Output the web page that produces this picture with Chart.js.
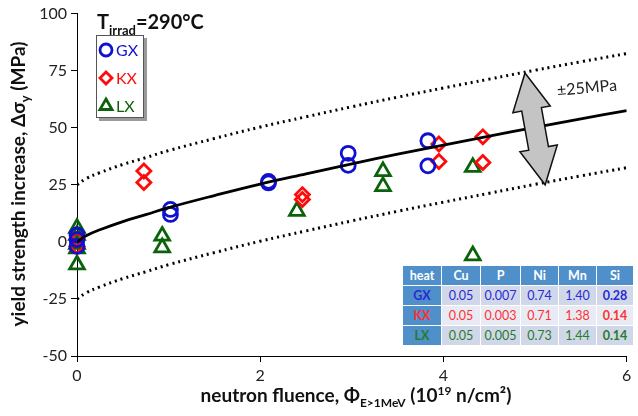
<!DOCTYPE html>
<html lang="en">
  <head>
    <meta charset="UTF-8" />
    <script src="https://cdn.jsdelivr.net/npm/chart.js"></script>
    <style>
      body { margin: 0; background: #fff; }
      #wrap { position: relative; width: 638px; height: 416px; }
      #heatTable {
        position: absolute; left: 402px; top: 265px;
        border-collapse: separate; border-spacing: 1.5px;
        font-family: Lato, "Liberation Sans", sans-serif; font-size: 12.5px;
        text-align: center; background: #fff;
      }
      #heatTable td, #heatTable th { height: 19px; padding: 0; }
      #heatTable th { background: #4f8fca; color: #fff; font-weight: bold; }
      #heatTable tr.r1 td { background: #cfd7e8; }
      #heatTable tr.r2 td { background: #e8ebf4; }
      #heatTable tr.r3 td { background: #cfd7e8; }
      #heatTable tr td.h { background: #4f8fca; font-weight: bold; }
    </style>
  </head>
  <body>
    <div id="wrap">
      <canvas id="fluenceChart" width="638" height="416"></canvas>
      <table id="heatTable"></table>
    </div>

    <script>
      // GX / KX / LX measured points (fluence, yield strength increase)
      const gxX = [0, 0, 0, 1.02, 1.02, 2.09, 2.09, 2.96, 2.96, 3.83, 3.83];
      const gxY = [3, 1, -2, 14.2, 12, 26.5, 25.8, 38.8, 33.5, 44.3, 33.3];
      const kxX = [0, 0, 0.73, 0.73, 2.46, 2.46, 3.95, 3.95, 4.43, 4.43];
      const kxY = [1, -2, 31, 26, 20.7, 18.6, 42.9, 35.2, 46, 34.8];
      const lxX = [0, 0, 0, 0, 0, 0.93, 0.93, 2.4, 3.34, 3.34, 4.32, 4.32];
      const lxY = [6, 3, -1, -3, -10, 2.6, -2.5, 13.5, 30.9, 24.3, 32.7, -6];

      // trend curve and +/-25 MPa band
      const fitX = [0, 0.1, 0.25, 0.5, 0.75, 1, 1.5, 2, 2.5, 3, 3.5, 4, 4.5, 5, 5.5, 6];
      const fitY = [0, 2.7, 5.3, 8.9, 11.9, 15, 20.3, 25.3, 29.8, 34.2, 38.4, 42.4, 46.3, 50.2, 53.9, 57.5];
      const upperY = [25, 27.7, 30.3, 33.9, 36.9, 40, 45.3, 50.3, 54.8, 59.2, 63.4, 67.4, 71.3, 75.2, 78.9, 82.5];
      const lowerY = [-25, -22.3, -19.7, -16.1, -13.1, -10, -4.7, 0.3, 4.8, 9.2, 13.4, 17.4, 21.3, 25.2, 28.9, 32.5];

      const xTicks = [0, 2, 4, 6];
      const yTicks = [-50, -25, 0, 25, 50, 75, 100];

      // composition table
      const heats = ["GX", "KX", "LX"];
      const elements = ["Cu", "P", "Ni", "Mn", "Si"];
      const composition = [
        ["0.05", "0.007", "0.74", "1.40", "0.28"],
        ["0.05", "0.003", "0.71", "1.38", "0.14"],
        ["0.05", "0.005", "0.73", "1.44", "0.14"],
      ];

      const BLUE = "#1010d0";
      const RED = "#ff0a0a";
      const GREEN = "#0a620a";
      const tableColors = ["#2a2ad6", "#ff3030", "#2a7a2a"];
      const FONT = "Lato, 'Liberation Sans', sans-serif";

      const pts = (xs, ys) => xs.map((x, i) => ({ x: x, y: ys[i] }));

      // table
      const colW = [38, 38, 39, 37, 37, 36];
      let html = "<tr><th style='width:" + colW[0] + "px'>heat</th>";
      elements.forEach((e, i) => (html += "<th style='width:" + colW[i + 1] + "px'>" + e + "</th>"));
      html += "</tr>";
      heats.forEach((h, r) => {
        html += "<tr class='r" + (r + 1) + "'><td class='h' style='color:" + tableColors[r] + "'>" + h + "</td>";
        composition[r].forEach((v, c) => {
          const b = c === 4 ? "font-weight:bold;" : "";
          html += "<td style='" + b + "color:" + tableColors[r] + "'>" + v + "</td>";
        });
        html += "</tr>";
      });
      document.getElementById("heatTable").innerHTML = html;

      // text with sub/superscripts
      function drawParts(ctx, parts, x, y, align) {
        let w = 0;
        parts.forEach((p) => {
          ctx.font = "bold " + p.s + "px " + FONT;
          w += ctx.measureText(p.t).width;
        });
        let cx = align === "center" ? x - w / 2 : x;
        parts.forEach((p) => {
          ctx.font = "bold " + p.s + "px " + FONT;
          ctx.fillText(p.t, cx, y + (p.dy || 0));
          cx += ctx.measureText(p.t).width;
        });
      }

      const extras = {
        id: "extras",
        afterDraw(chart) {
          const ctx = chart.ctx;
          const xs = chart.scales.x;
          const ys = chart.scales.y;
          ctx.save();
          ctx.fillStyle = "#111";
          ctx.textBaseline = "alphabetic";
          ctx.textAlign = "left";

          // axis titles
          drawParts(ctx, [
            { t: "neutron fluence, Φ", s: 19 },
            { t: "E>1MeV", s: 12, dy: 5 },
            { t: " (10", s: 19 },
            { t: "19", s: 12, dy: -7 },
            { t: " n/cm²)", s: 19 },
          ], 356, 402, "center");

          ctx.save();
          ctx.translate(25, 184);
          ctx.rotate(-Math.PI / 2);
          drawParts(ctx, [
            { t: "yield strength increase, Δσ", s: 19 },
            { t: "y", s: 13, dy: 5 },
            { t: " (MPa)", s: 19 },
          ], 0, 0, "center");
          ctx.restore();

          drawParts(ctx, [
            { t: "T", s: 20 },
            { t: "irrad", s: 13, dy: 6 },
            { t: "=290°C", s: 20 },
          ], 97, 29, "left");

          // legend box
          ctx.fillStyle = "#9a9a9a";
          ctx.fillRect(99, 38, 48, 83);
          ctx.fillStyle = "#fff";
          ctx.fillRect(96, 35, 47, 82);
          ctx.strokeStyle = "#555";
          ctx.lineWidth = 1;
          ctx.strokeRect(96.5, 35.5, 47, 82);
          const leg = [
            { n: "GX", c: BLUE, s: "circle", r: 6 },
            { n: "KX", c: RED, s: "rectRot", r: 6 },
            { n: "LX", c: GREEN, s: "triangle", r: 7 },
          ];
          leg.forEach((l, i) => {
            const ly = 50 + i * 28;
            ctx.strokeStyle = l.c;
            ctx.fillStyle = "#fff";
            ctx.lineWidth = 2.8;
            Chart.helpers.drawPoint(ctx, { pointStyle: l.s, radius: l.r, borderWidth: 2.8 }, 106, ly);
            ctx.fillStyle = l.c;
            ctx.font = "16px " + FONT;
            ctx.textBaseline = "middle";
            ctx.fillText(l.n, 116, ly + 1);
          });

          // double arrow across the band
          const tx = xs.getPixelForValue(4.89), ty = ys.getPixelForValue(74);
          const bx = xs.getPixelForValue(5.11), by = ys.getPixelForValue(25);
          const ang = Math.atan2(by - ty, bx - tx);
          const len = Math.hypot(bx - tx, by - ty);
          ctx.save();
          ctx.translate(tx, ty);
          ctx.rotate(ang - Math.PI / 2);
          const hl = 37, hw = 19, sw = 10;
          ctx.beginPath();
          ctx.moveTo(0, 0);
          ctx.lineTo(hw, hl);
          ctx.lineTo(sw, hl);
          ctx.lineTo(sw, len - hl);
          ctx.lineTo(hw, len - hl);
          ctx.lineTo(0, len);
          ctx.lineTo(-hw, len - hl);
          ctx.lineTo(-sw, len - hl);
          ctx.lineTo(-sw, hl);
          ctx.lineTo(-hw, hl);
          ctx.closePath();
          ctx.fillStyle = "#c4c4c4";
          ctx.fill();
          ctx.strokeStyle = "#111";
          ctx.lineWidth = 1.5;
          ctx.stroke();
          ctx.restore();

          ctx.save();
          ctx.translate(587, 88);
          ctx.rotate(-0.09);
          ctx.fillStyle = "#222";
          ctx.font = "16px " + FONT;
          ctx.textAlign = "center";
          ctx.textBaseline = "middle";
          ctx.fillText("±25MPa", 0, 0);
          ctx.restore();

          ctx.restore();
        },
      };

      const lineSet = (ys, dash, width) => ({
        type: "line",
        data: pts(fitX, ys),
        borderColor: "#000",
        borderWidth: width,
        borderDash: dash,
        pointRadius: 0,
        tension: 0.4,
        fill: false,
      });

      const markerSet = (xs, ys, color, style, r) => ({
        type: "scatter",
        data: pts(xs, ys),
        borderColor: color,
        backgroundColor: "rgba(0,0,0,0)",
        borderWidth: 2.8,
        pointStyle: style,
        pointRadius: r,
        pointHoverRadius: r,
        clip: false,
      });

      const ctx = document.getElementById("fluenceChart").getContext("2d");
      new Chart(ctx, {
        data: {
          datasets: [
            lineSet(fitY, [], 2.8),
            lineSet(upperY, [2, 4], 3),
            lineSet(lowerY, [2, 4], 3),
            markerSet(gxX, gxY, BLUE, "circle", 7),
            markerSet(kxX, kxY, RED, "rectRot", 7),
            markerSet(lxX, lxY, GREEN, "triangle", 8.5),
          ],
        },
        options: {
          responsive: false,
          animation: false,
          layout: { padding: { top: 11, right: 4, left: 0, bottom: 0 } },
          plugins: { legend: { display: false }, tooltip: { enabled: false } },
          scales: {
            x: {
              type: "linear",
              min: 0,
              max: 6,
              afterBuildTicks: (s) => (s.ticks = xTicks.map((v) => ({ value: v }))),
              afterFit: (s) => (s.height = 60),
              grid: { drawOnChartArea: false, tickLength: 6, color: "#000" },
              border: { color: "#000", width: 1 },
              ticks: { color: "#222", font: { size: 16, family: FONT }, padding: 4 },
            },
            y: {
              min: -50,
              max: 100,
              afterBuildTicks: (s) => (s.ticks = yTicks.map((v) => ({ value: v }))),
              afterFit: (s) => (s.width = 77),
              grid: { drawOnChartArea: false, tickLength: 6, color: "#000" },
              border: { color: "#000", width: 1 },
              ticks: { color: "#222", font: { size: 16, family: FONT }, padding: 4 },
            },
          },
        },
        plugins: [extras],
      });
    </script>
  </body>
</html>
